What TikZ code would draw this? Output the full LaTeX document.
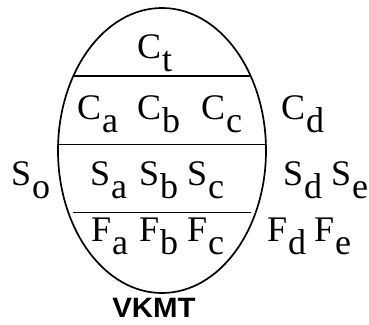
\documentclass[tikz,border=0pt]{standalone}
\usepackage{fontspec}
\usetikzlibrary{shapes.geometric}
\setmainfont{Liberation Serif}
\newfontfamily\labsans{Liberation Sans}
\newcommand{\sublab}[2]{#1\kern1pt\raisebox{-13pt}{#2}}
\begin{document}
\begin{tikzpicture}[x=1pt,y=-1pt,
  lab/.style={anchor=base west,inner sep=0pt,font=\fontsize{36}{40}\selectfont},
  rule/.style={line width=1.7pt}]
\useasboundingbox (0,0) rectangle (369,324);
\node[draw,rule,ellipse,minimum width=208pt,minimum height=285pt,inner sep=0pt] (egg) at (162,150.5) {};
\coordinate (l1a) at (74,76); \coordinate (l1b) at (251,76);
\coordinate (l2a) at (58,144.5); \coordinate (l2b) at (266,144.5);
\coordinate (l3a) at (73,212.5); \coordinate (l3b) at (251,212.5);
\draw[rule] (l1a) -- (l1b);
\draw[rule] (l2a) -- (l2b);
\draw[rule] (l3a) -- (l3b);
\node[lab] (ct) at (137,58) {\sublab{C}{t}};
\node[lab] (ca) at (77,119) {\sublab{C}{a}};
\node[lab] (cb) at (137,119) {\sublab{C}{b}};
\node[lab] (cc) at (201,119) {\sublab{C}{c}};
\node[lab] (cd) at (281,119) {\sublab{C}{d}};
\node[lab] (so) at (11,185) {\sublab{S}{o}};
\node[lab] (sa) at (90,185) {\sublab{S}{a}};
\node[lab] (sb) at (139,185) {\sublab{S}{b}};
\node[lab] (sc) at (187,185) {\sublab{S}{c}};
\node[lab] (sd) at (283,185) {\sublab{S}{d}};
\node[lab] (se) at (331,185) {\sublab{S}{e}};
\node[lab] (fa) at (91,241) {\sublab{F}{a}};
\node[lab] (fb) at (139,241) {\sublab{F}{b}};
\node[lab] (fc) at (187,241) {\sublab{F}{c}};
\node[lab] (fd) at (267,241) {\sublab{F}{d}};
\node[lab] (fe) at (314,241) {\sublab{F}{e}};
\node[anchor=base,inner sep=0pt,font=\labsans\bfseries\fontsize{28}{30}\selectfont] (vkmt) at (154,317) {\scalebox{1.05}[1]{VKMT}};
\end{tikzpicture}
\end{document}
